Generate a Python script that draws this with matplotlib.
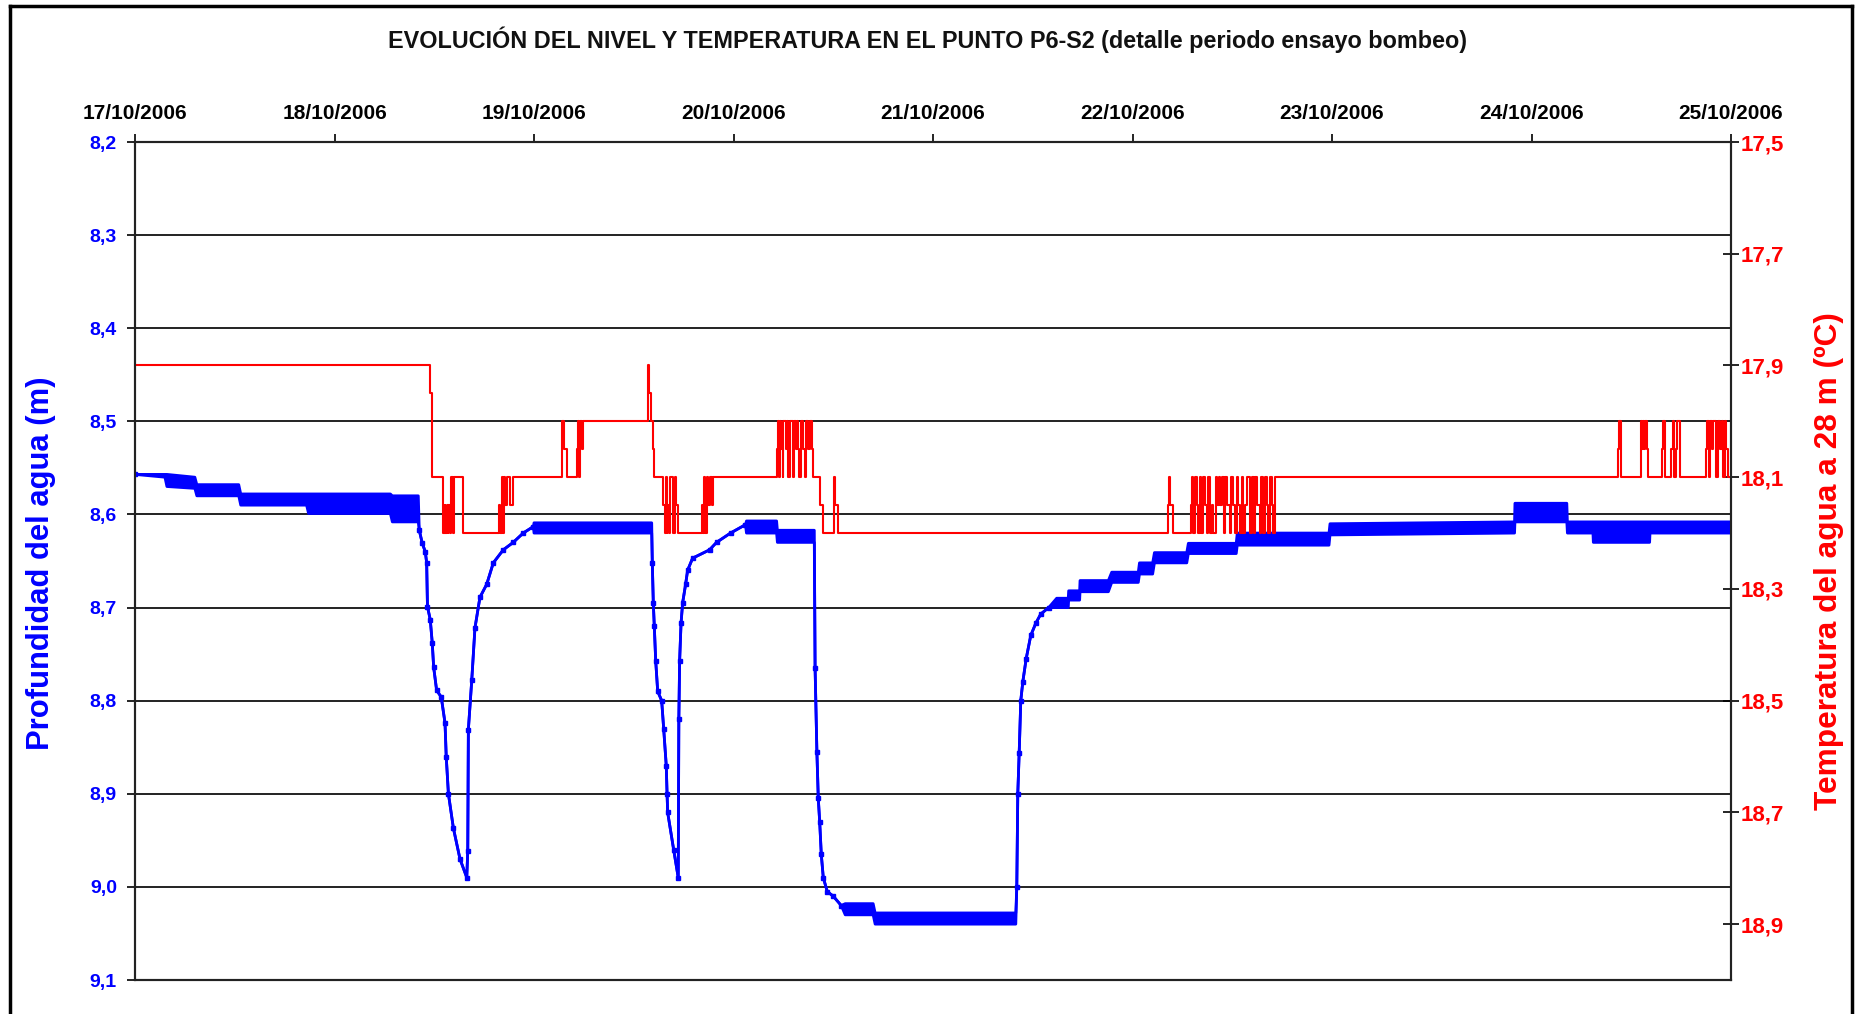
import matplotlib
matplotlib.use("Agg")
import matplotlib.pyplot as plt
import matplotlib.dates as mdates
from matplotlib.ticker import FixedLocator, FuncFormatter
from matplotlib.lines import Line2D
import datetime as dt
import numpy as np

plt.rcParams['font.family'] = ['Liberation Sans', 'DejaVu Sans']

# ---------------- data ----------------
title = "EVOLUCIÓN DEL NIVEL Y TEMPERATURA EN EL PUNTO P6-S2 (detalle periodo ensayo bombeo)"
ylabel_left = "Profundidad del agua (m)"
ylabel_right = "Temperatura del agua a 28 m (ºC)"
start_date = dt.datetime(2006, 10, 17)
n_days = 8

# water depth (m): time in days from 17/10/2006 00:00, shallow / deep envelope of readings
depth_t = [0.000, 0.150, 0.160, 0.300, 0.310, 0.520, 0.530, 0.860, 0.870, 1.280, 1.290, 1.420,
           1.425, 1.440, 1.455, 1.462, 1.466, 1.480, 1.490, 1.497, 1.512, 1.535, 1.554, 1.560,
           1.571, 1.596, 1.629, 1.663,
           1.668, 1.671, 1.688, 1.704, 1.729, 1.763, 1.796, 1.846, 1.896, 1.946, 1.997,
           2.000, 2.590,
           2.593, 2.598, 2.603, 2.610, 2.620, 2.640, 2.650, 2.663, 2.667, 2.670, 2.700, 2.723,
           2.726, 2.730, 2.737, 2.745, 2.760, 2.770, 2.795, 2.880, 2.915, 2.985, 3.060,
           3.065, 3.216, 3.220, 3.405,
           3.409, 3.418, 3.425, 3.432, 3.440, 3.450, 3.470, 3.500, 3.540,
           3.560, 3.700, 3.710, 4.415,
           4.420, 4.425, 4.432, 4.440, 4.450, 4.467, 4.490, 4.515, 4.540, 4.580,
           4.620, 4.678, 4.680, 4.735, 4.737, 4.879, 4.896, 5.029, 5.035, 5.101, 5.110, 5.272,
           5.280, 5.520, 5.525, 5.985, 5.990, 6.915, 6.917, 7.177, 7.180, 7.308, 7.310, 7.592,
           7.594, 8.000]
depth_top = [8.557, 8.557, 8.557, 8.560, 8.568, 8.568, 8.578, 8.578, 8.578, 8.578, 8.580, 8.580,
             8.617, 8.631, 8.640, 8.652, 8.699, 8.713, 8.738, 8.764, 8.789, 8.796, 8.824, 8.860,
             8.900, 8.937, 8.970, 8.990,
             8.961, 8.831, 8.778, 8.722, 8.689, 8.675, 8.652, 8.638, 8.630, 8.620, 8.613,
             8.609, 8.609,
             8.652, 8.695, 8.720, 8.757, 8.790, 8.800, 8.830, 8.870, 8.900, 8.920, 8.960, 8.990,
             8.820, 8.757, 8.717, 8.695, 8.675, 8.660, 8.647, 8.638, 8.630, 8.620, 8.611,
             8.607, 8.607, 8.617, 8.617,
             8.765, 8.855, 8.905, 8.930, 8.965, 8.990, 9.005, 9.010, 9.020,
             9.018, 9.018, 9.028, 9.028,
             9.000, 8.900, 8.856, 8.800, 8.780, 8.755, 8.730, 8.717, 8.707, 8.700,
             8.690, 8.690, 8.682, 8.682, 8.671, 8.671, 8.662, 8.662, 8.652, 8.652, 8.641, 8.641,
             8.631, 8.631, 8.620, 8.620, 8.610, 8.608, 8.588, 8.588, 8.608, 8.608, 8.608, 8.608,
             8.608, 8.608]
depth_bot = [8.557, 8.560, 8.570, 8.572, 8.580, 8.580, 8.590, 8.590, 8.599, 8.599, 8.608, 8.608,
             8.617, 8.631, 8.640, 8.652, 8.699, 8.713, 8.738, 8.764, 8.789, 8.796, 8.824, 8.860,
             8.900, 8.937, 8.970, 8.990,
             8.961, 8.831, 8.778, 8.722, 8.689, 8.675, 8.652, 8.638, 8.630, 8.620, 8.613,
             8.620, 8.620,
             8.652, 8.695, 8.720, 8.757, 8.790, 8.800, 8.830, 8.870, 8.900, 8.920, 8.960, 8.990,
             8.820, 8.757, 8.717, 8.695, 8.675, 8.660, 8.647, 8.638, 8.630, 8.620, 8.611,
             8.620, 8.620, 8.630, 8.630,
             8.765, 8.855, 8.905, 8.930, 8.965, 8.990, 9.005, 9.010, 9.020,
             9.030, 9.030, 9.040, 9.040,
             9.000, 8.900, 8.856, 8.800, 8.780, 8.755, 8.730, 8.717, 8.707, 8.700,
             8.700, 8.700, 8.692, 8.692, 8.683, 8.683, 8.673, 8.673, 8.664, 8.664, 8.652, 8.652,
             8.642, 8.642, 8.633, 8.633, 8.622, 8.620, 8.608, 8.608, 8.620, 8.620, 8.630, 8.630,
             8.620, 8.620]

# temperature at 28 m (ºC), step series
temp_t = [0.000, 1.479, 1.487, 1.5455, 1.552, 1.556, 1.562, 1.567, 1.571, 1.579, 1.583, 1.5956, 1.600, 1.6457,
          1.826, 1.832, 1.838, 1.843, 1.8496, 1.856, 1.863, 1.880, 1.893,
          2.139, 2.150, 2.164, 2.214, 2.220, 2.225, 2.232, 2.239, 2.245,
          2.570, 2.575, 2.585, 2.598, 2.604,
          2.648, 2.657, 2.660, 2.665, 2.668, 2.675, 2.682, 2.698, 2.705, 2.712, 2.720,
          2.840, 2.846, 2.852, 2.858, 2.866, 2.872, 2.882, 2.890, 2.899,
          3.216, 3.222, 3.228, 3.233, 3.240, 3.246, 3.250, 3.262, 3.268, 3.275, 3.283, 3.300, 3.305,
          3.312, 3.318, 3.325, 3.330, 3.337, 3.350, 3.357, 3.362, 3.375, 3.385, 3.393, 3.400,
          3.434, 3.450, 3.504, 3.510, 3.525,
          5.180, 5.185, 5.190, 5.201, 5.292, 5.297, 5.305, 5.313, 5.322, 5.330, 5.338, 5.345, 5.355,
          5.364, 5.372, 5.380, 5.390, 5.397, 5.405, 5.419, 5.425, 5.432, 5.440, 5.450, 5.460, 5.464,
          5.475, 5.489, 5.495, 5.505, 5.515, 5.522, 5.530, 5.540, 5.548, 5.556, 5.565, 5.575, 5.589,
          5.597, 5.607, 5.614, 5.625, 5.639, 5.645, 5.655, 5.664, 5.672, 5.680, 5.689, 5.697, 5.705,
          5.714,
          7.435, 7.440, 7.447, 7.547, 7.552, 7.557, 7.562, 7.570, 7.577, 7.586,
          7.655, 7.661, 7.668, 7.700, 7.708, 7.715, 7.722, 7.728, 7.745,
          7.875, 7.880, 7.890, 7.895, 7.905, 7.912, 7.925, 7.935, 7.945, 7.955, 7.962, 7.968, 7.975,
          7.985, 8.000]
temp_v = [17.90, 17.95, 18.10, 18.20, 18.15, 18.20, 18.15, 18.20, 18.15, 18.20, 18.10, 18.20, 18.10, 18.20,
          18.15, 18.20, 18.10, 18.20, 18.10, 18.15, 18.10, 18.15, 18.10,
          18.00, 18.05, 18.10, 18.05, 18.00, 18.10, 18.00, 18.05, 18.00,
          17.90, 17.95, 18.00, 18.05, 18.10,
          18.15, 18.20, 18.10, 18.20, 18.15, 18.20, 18.10, 18.20, 18.10, 18.15, 18.20,
          18.15, 18.20, 18.10, 18.20, 18.10, 18.15, 18.10, 18.15, 18.10,
          18.05, 18.00, 18.10, 18.00, 18.05, 18.10, 18.00, 18.05, 18.00, 18.10, 18.00, 18.10, 18.00,
          18.05, 18.00, 18.05, 18.10, 18.00, 18.05, 18.10, 18.00, 18.05, 18.00, 18.05, 18.10,
          18.15, 18.20, 18.10, 18.15, 18.20,
          18.15, 18.10, 18.15, 18.20, 18.15, 18.10, 18.20, 18.10, 18.15, 18.20, 18.10, 18.20, 18.10,
          18.15, 18.20, 18.10, 18.20, 18.15, 18.20, 18.10, 18.15, 18.10, 18.15, 18.10, 18.20, 18.10,
          18.15, 18.20, 18.10, 18.15, 18.20, 18.10, 18.15, 18.20, 18.10, 18.20, 18.15, 18.10, 18.20,
          18.10, 18.20, 18.10, 18.15, 18.20, 18.10, 18.20, 18.10, 18.15, 18.20, 18.10, 18.15, 18.20,
          18.10,
          18.05, 18.00, 18.10, 18.00, 18.05, 18.00, 18.05, 18.00, 18.05, 18.10,
          18.05, 18.00, 18.10, 18.05, 18.00, 18.10, 18.05, 18.00, 18.10,
          18.05, 18.00, 18.10, 18.00, 18.05, 18.00, 18.10, 18.00, 18.05, 18.00, 18.10, 18.00, 18.05,
          18.10, 18.10]

depth_ticks = [8.2, 8.3, 8.4, 8.5, 8.6, 8.7, 8.8, 8.9, 9.0, 9.1]
temp_ticks = [17.5, 17.7, 17.9, 18.1, 18.3, 18.5, 18.7, 18.9]

# ---------------- figure ----------------
W, H = 1856, 1014
fig = plt.figure(figsize=(W / 100, H / 100), dpi=100)
fig.patch.set_facecolor('white')

# outer frame
for xs, ys in [([10, 10], [-20, 6]), ([10, 1852], [6, 6]), ([1852, 1852], [-20, 6])]:
    pass
fig.add_artist(Line2D([10 / W, 10 / W], [-0.01, 1 - 6 / H], transform=fig.transFigure, color='black', lw=2.5))
fig.add_artist(Line2D([10 / W, 1852 / W], [1 - 6 / H, 1 - 6 / H], transform=fig.transFigure, color='black', lw=2.5))
fig.add_artist(Line2D([1852 / W, 1852 / W], [-0.01, 1 - 6 / H], transform=fig.transFigure, color='black', lw=2.5))

ax = fig.add_axes([135 / W, 1 - 980 / H, (1731 - 135) / W, (980 - 142) / H])
x0 = mdates.date2num(start_date)
dx = np.array([x0 + t for t in depth_t])
tx = [x0 + t for t in temp_t]
top = np.array(depth_top)
bot = np.array(depth_bot)

ax.fill_between(dx, top, bot, color='#0000FF', lw=0, zorder=3)
ax.plot(dx, top, color='#0000FF', lw=2.0, zorder=3)
ax.plot(dx, bot, color='#0000FF', lw=2.0, zorder=3)
single = top == bot
ax.plot(dx[single], top[single], ls='none', color='#0000FF', marker='s', ms=3, zorder=4)

ax.set_ylim(9.1, 8.2)
ax.set_xlim(x0, x0 + n_days)
ax.yaxis.set_major_locator(FixedLocator(depth_ticks))
ax.yaxis.set_major_formatter(FuncFormatter(lambda v, p: f"{v:.1f}".replace('.', ',')))
for v in depth_ticks:
    ax.axhline(v, color='#222222', lw=1.4, zorder=1)

ax.xaxis.set_major_locator(mdates.DayLocator())
ax.xaxis.set_major_formatter(mdates.DateFormatter('%d/%m/%Y'))
ax.xaxis.tick_top()
ax.tick_params(axis='x', which='major', direction='out', length=6, width=1.2, pad=8,
               labelsize=15, labelcolor='black')
for lab in ax.get_xticklabels():
    lab.set_fontweight('bold')
ax.tick_params(axis='y', direction='out', length=6, width=1.2, pad=7, labelsize=14, labelcolor='#0000FF')
for lab in ax.get_yticklabels():
    lab.set_fontweight('bold')
for s in ax.spines.values():
    s.set_linewidth(1.5)
    s.set_color('#222222')

ax2 = ax.twinx()
ax2.step(tx, temp_v, where='post', color='#FF0000', lw=1.5, zorder=2)
ax2.set_ylim(19.0, 17.5)
ax2.yaxis.set_major_locator(FixedLocator(temp_ticks))
ax2.yaxis.set_major_formatter(FuncFormatter(lambda v, p: f"{v:.1f}".replace('.', ',')))
ax2.tick_params(axis='y', direction='inout', length=12, width=1.2, pad=1, labelsize=16, labelcolor='#FF0000')
for lab in ax2.get_yticklabels():
    lab.set_fontweight('bold')
ax2.set_xlim(x0, x0 + n_days)
for s in ax2.spines.values():
    s.set_linewidth(1.5)
    s.set_color('#222222')

fig.text(41 / W, 1 - 476 / 857, ylabel_left, rotation=90, ha='center', va='center',
         color='#0000FF', fontsize=22.3, fontweight='bold')
fig.text(1829 / W, 1 - 474 / 857, ylabel_right, rotation=90, ha='center', va='center',
         color='#FF0000', fontsize=22.8, fontweight='bold')

fig.text(0.5, 1 - 40 / H, title, ha='center', va='center', fontsize=16.8, fontweight='bold', color='#111111')

fig.savefig('out.png', dpi=100, facecolor='white')
